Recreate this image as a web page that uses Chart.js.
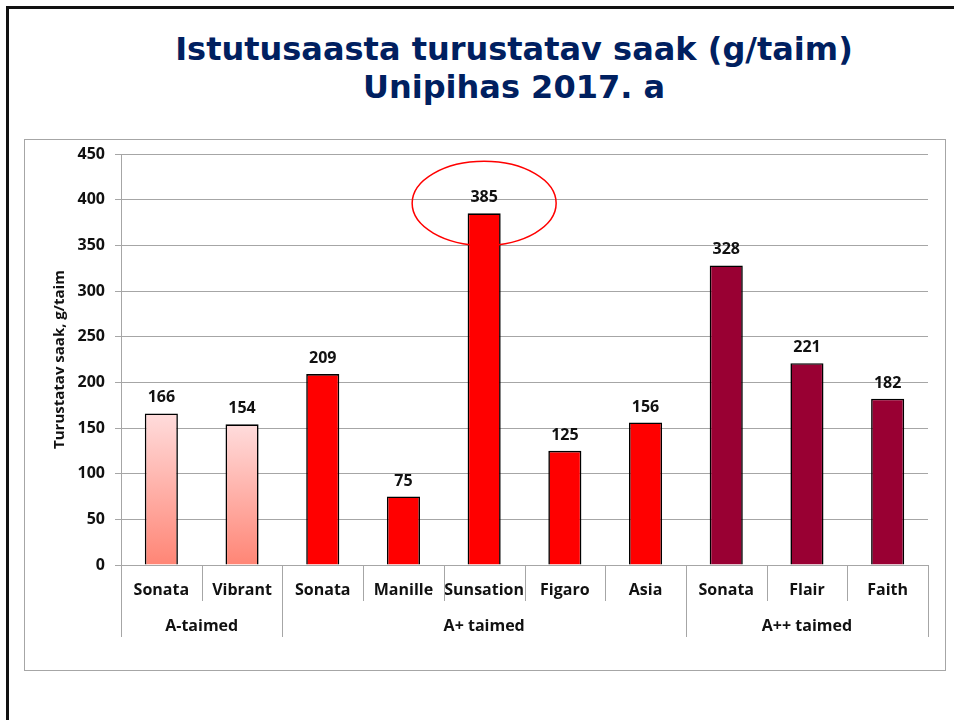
<!DOCTYPE html>
<html>
<head>
<meta charset="utf-8">
<script src="https://cdn.jsdelivr.net/npm/chart.js@4"></script>
<style>
  body { margin: 0; background: #fff; width: 954px; height: 720px; overflow: hidden; position: relative; }
  #frame { position: absolute; left: 6px; top: 6px; width: 1000px; height: 1000px; border: 3px solid #111; }
  #title { position: absolute; left: 114px; width: 800px; top: 30px; text-align: center;
           font: bold 32px "DejaVu Sans", sans-serif; line-height: 38px; color: #002060; }
  #box { position: absolute; left: 24px; top: 139px; width: 920px; height: 530px; border: 1px solid #a6a6a6; }
</style>
</head>
<body>
<div id="frame"></div>
<div id="title">Istutusaasta turustatav saak (g/taim)<br>Unipihas 2017. a</div>
<div id="box"><canvas id="saak" width="920" height="530"></canvas></div>
<script>
// andmed
const sordid = ['Sonata', 'Vibrant', 'Sonata', 'Manille', 'Sunsation', 'Figaro', 'Asia', 'Sonata', 'Flair', 'Faith'];
const grupid = ['A-taimed', 'A+ taimed', 'A++ taimed'];
const grupiSuurus = [2, 5, 3];
const saak = [166, 154, 209, 75, 385, 125, 156, 328, 221, 182];
const yTicks = [0, 50, 100, 150, 200, 250, 300, 350, 400, 450];

const font = '"Open Sans", sans-serif';
const hall = '#a6a6a6';

// grupi indeks iga tulba jaoks
const tulbaGrupp = [];
grupiSuurus.forEach((n, g) => { for (let i = 0; i < n; i++) tulbaGrupp.push(g); });

function tulbaVarv(context) {
    const g = tulbaGrupp[context.dataIndex];
    if (g === 1) return '#ff0000';
    if (g === 2) return '#990033';
    const chart = context.chart;
    if (!chart.chartArea) return '#ffb0a8';
    const y = chart.scales.y;
    const top = y.getPixelForValue(context.raw);
    const bottom = y.getPixelForValue(0);
    const grad = chart.ctx.createLinearGradient(0, top, 0, bottom);
    grad.addColorStop(0, '#ffdcdc');
    grad.addColorStop(1, '#ff8575');
    return grad;
}

// väärtused tulpade kohal, grupid x-telje all ja ring suurima ümber
const lisad = {
    id: 'lisad',
    afterDatasetsDraw(chart) {
        const ctx = chart.ctx;
        const meta = chart.getDatasetMeta(0);
        ctx.save();
        ctx.fillStyle = '#111';
        ctx.font = 'bold 16px ' + font;
        ctx.textAlign = 'center';
        ctx.textBaseline = 'alphabetic';
        meta.data.forEach((bar, i) => {
            ctx.fillText(String(saak[i]), bar.x, bar.y - 11);
        });

        // ring
        const maxI = saak.indexOf(Math.max(...saak));
        const b = meta.data[maxI];
        ctx.strokeStyle = '#ff0000';
        ctx.lineWidth = 1.5;
        ctx.beginPath();
        ctx.ellipse(b.x, b.y - 10, 72, 42, 0, 0, Math.PI * 2);
        ctx.stroke();

        // x-telje jaotusjooned
        const x = chart.scales.x;
        const y0 = chart.chartArea.bottom;
        const piirid = [0];
        let s = 0;
        grupiSuurus.forEach(n => { s += n; piirid.push(s); });
        ctx.strokeStyle = hall;
        ctx.lineWidth = 1;
        for (let i = 0; i <= sordid.length; i++) {
            const px = Math.round(x.getPixelForValue(i - 0.5)) + 0.5;
            const pikk = piirid.includes(i);
            ctx.beginPath();
            ctx.moveTo(px, y0);
            ctx.lineTo(px, y0 + (pikk ? 72 : 36));
            ctx.stroke();
        }
        ctx.fillStyle = '#111';
        ctx.textBaseline = 'middle';
        grupid.forEach((nimi, g) => {
            const a = x.getPixelForValue(piirid[g] - 0.5);
            const c = x.getPixelForValue(piirid[g + 1] - 0.5);
            ctx.fillText(nimi, (a + c) / 2, y0 + 61);
        });
        ctx.restore();
    }
};

new Chart(document.getElementById('saak').getContext('2d'), {
    type: 'bar',
    data: {
        labels: sordid,
        datasets: [{
            data: saak,
            backgroundColor: tulbaVarv,
            borderColor: '#000',
            borderWidth: 1.6,
            barPercentage: 0.41,
            categoryPercentage: 1
        }]
    },
    options: {
        responsive: false,
        animation: false,
        layout: { padding: { top: 14, right: 17, left: 0, bottom: 0 } },
        plugins: { legend: { display: false }, tooltip: { enabled: false } },
        scales: {
            x: {
                afterFit: s => { s.height = 105; s.paddingLeft = 0; s.paddingRight = 0; },
                grid: { display: false },
                border: { display: true, color: hall, width: 1 },
                ticks: { color: '#111', padding: 8, maxRotation: 0, minRotation: 0, autoSkip: false,
                         font: { family: font, size: 16, weight: 'bold' } }
            },
            y: {
                min: 0,
                max: 450,
                afterFit: s => { s.width = 96; s.paddingTop = 0; s.paddingBottom = 0; },
                afterBuildTicks: s => { s.ticks = yTicks.map(v => ({ value: v })); },
                grid: { color: hall, tickLength: 6, tickColor: hall },
                border: { display: true, color: hall, width: 1 },
                ticks: { color: '#111', padding: 10, font: { family: font, size: 16, weight: 'bold' } },
                title: {
                    display: true,
                    text: 'Turustatav saak, g/taim',
                    color: '#111',
                    padding: { top: 26, bottom: 0 },
                    font: { family: font, size: 15, weight: 'bold' }
                }
            }
        }
    },
    plugins: [lisad]
});
</script>
</body>
</html>
